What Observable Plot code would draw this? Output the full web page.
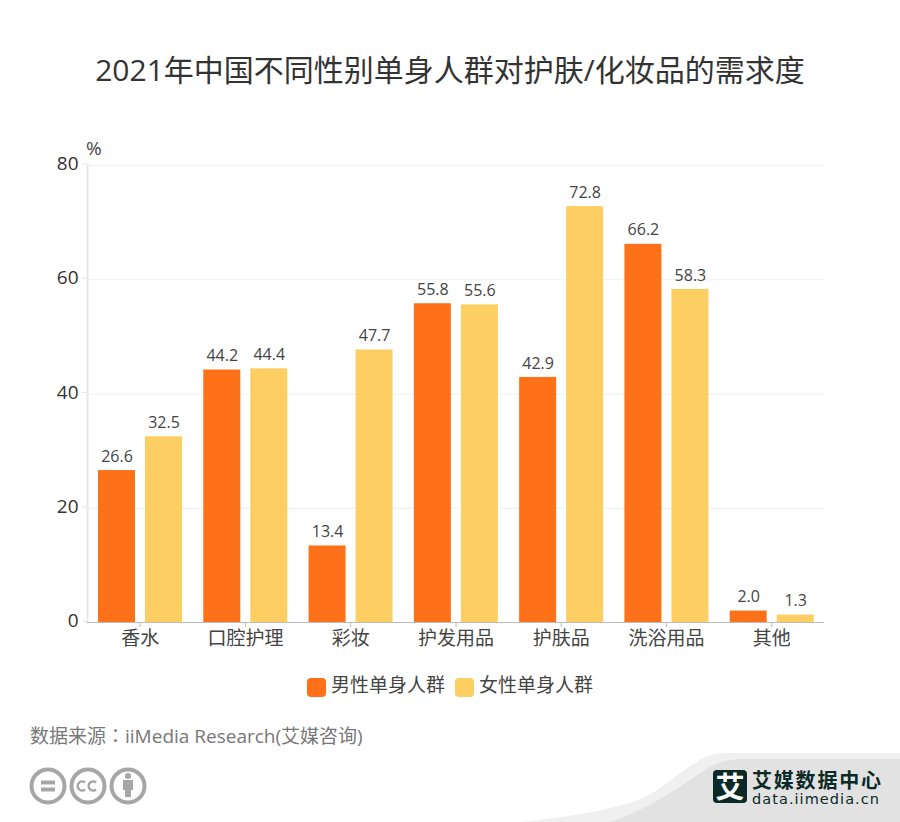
<!DOCTYPE html>
<html><head><meta charset="utf-8">
<script src="https://cdn.jsdelivr.net/npm/d3@7"></script>
<script src="https://cdn.jsdelivr.net/npm/@observablehq/plot@0.6"></script>
<style>
html,body{margin:0;padding:0;background:#fff}
#page{position:relative;width:900px;height:822px;overflow:hidden;font-family:"Open Sans","Noto Sans CJK SC",sans-serif}
#page>*{position:absolute}
#title{left:0;width:900px;top:48px;text-align:center;font-size:30px;line-height:44px;color:#333}
#chart{left:0;top:130px}
#pct{left:86px;top:135px;font-size:19px;line-height:26px;color:#444}
.sw{width:19px;height:19px;border-radius:4px;top:678px}
.lg{top:671px;font-size:19px;line-height:28px;color:#444}
#src{left:30px;top:721px;font-size:19px;line-height:28px;color:#777}
#src span{font-family:"Noto Sans CJK TC"}
#deco{left:0;top:740px}
</style></head><body><div id="page">
<div id="title">2021年中国不同性别单身人群对护肤/化妆品的需求度</div>
<svg id="deco" width="900" height="82" viewBox="0 740 900 82">
 <path d="M520 822 C560 818 600 812 633 802 C660 792 675 775 695 763 C705 756 715 753 730 753 L900 753 L900 822Z" fill="#f0f0f0"/>
 <path d="M610 822 C640 812 665 797 690 780 C710 766 720 759 745 759 L900 759 L900 822Z" fill="#e2e2e2"/>
 <rect x="713" y="770" width="34" height="33" rx="4" fill="#0b2a26"/>
 <text x="730" y="798" text-anchor="middle" font-size="29" font-weight="700" fill="#fff" font-family="Noto Sans CJK SC">艾</text>
 <text x="752" y="788" font-size="20" font-weight="700" fill="#0b2a26" textLength="129" font-family="Noto Sans CJK SC">艾媒数据中心</text>
 <text x="752" y="803.500" font-size="14.500" fill="#0b2a26" textLength="127" font-family="DejaVu Sans">data.iimedia.cn</text>
 <g fill="none" stroke="#a6a6a6" stroke-width="4">
  <circle cx="48" cy="786" r="16.500"/><circle cx="88" cy="786" r="16.500"/><circle cx="128" cy="786" r="16.500"/>
  <path d="M41 782.500H55M41 789.500H55"/>
  <path d="M85 782.500A4.500 4.500 0 1 0 85 789.500M96 782.500A4.500 4.500 0 1 0 96 789.500" stroke-width="2.500"/>
 </g>
 <g fill="#a6a6a6"><circle cx="128" cy="776" r="3"/><path d="M123 780H133V790H131V797H125V790H123Z"/></g>
</svg>
<div id="chart"></div>
<div id="pct">%</div>
<div class="sw" style="left:307px;background:#ff7119"></div>
<div class="lg" style="left:331px">男性单身人群</div>
<div class="sw" style="left:455px;background:#fdce62"></div>
<div class="lg" style="left:479px">女性单身人群</div>
<div id="src">数据来源<span>：</span>iiMedia Research(艾媒咨询)</div>
</div>
<script>
const categories = ["香水","口腔护理","彩妆","护发用品","护肤品","洗浴用品","其他"];
const groups = ["男性单身人群","女性单身人群"];
const male = [26.6,44.2,13.4,55.8,42.9,66.2,2.0];
const female = [32.5,44.4,47.7,55.6,72.8,58.3,1.3];
const yTicks = [0,20,40,60,80];
const colors = ["#ff7119","#fdce62"];
const rows = categories.flatMap((c,i)=>[
  {c,g:groups[0],v:male[i]},
  {c,g:groups[1],v:female[i]}
]);
const plot = Plot.plot({
  width:900,height:530,marginLeft:87,marginRight:76,marginTop:35,marginBottom:38,
  style:{fontFamily:'"Open Sans","Noto Sans CJK SC",sans-serif',background:"transparent"},
  fx:{domain:categories,padding:0,round:false,label:null},
  x:{domain:groups,padding:0.22,axis:null},
  y:{domain:[0,80],label:null},
  color:{domain:groups,range:colors},
  marks:[
    Plot.gridY(yTicks,{stroke:"#eeeeee",strokeOpacity:1}),
    Plot.frame({anchor:"left",facet:"super",stroke:"#e8e8e8",strokeWidth:2}),
    Plot.axisY({ticks:yTicks,tickSize:5,stroke:"#e6e6e6",strokeOpacity:1,tickPadding:4,fontSize:19,fill:"#333",label:null,dy:-1.5}),
    Plot.axisFx({anchor:"bottom",tickSize:5,stroke:"#bbb",strokeOpacity:1,tickPadding:4,fontSize:19,fill:"#444",label:null}),
    Plot.barY(rows,{fx:"c",x:"g",y:"v",fill:"g"}),
    Plot.ruleY([0],{stroke:"#bbb"}),
    Plot.text(rows,{fx:"c",x:"g",y:"v",text:d=>d.v.toFixed(1),dy:-14,fontSize:16,fill:"#444"})
  ]
});
document.getElementById("chart").append(plot);
</script>
</body></html>
